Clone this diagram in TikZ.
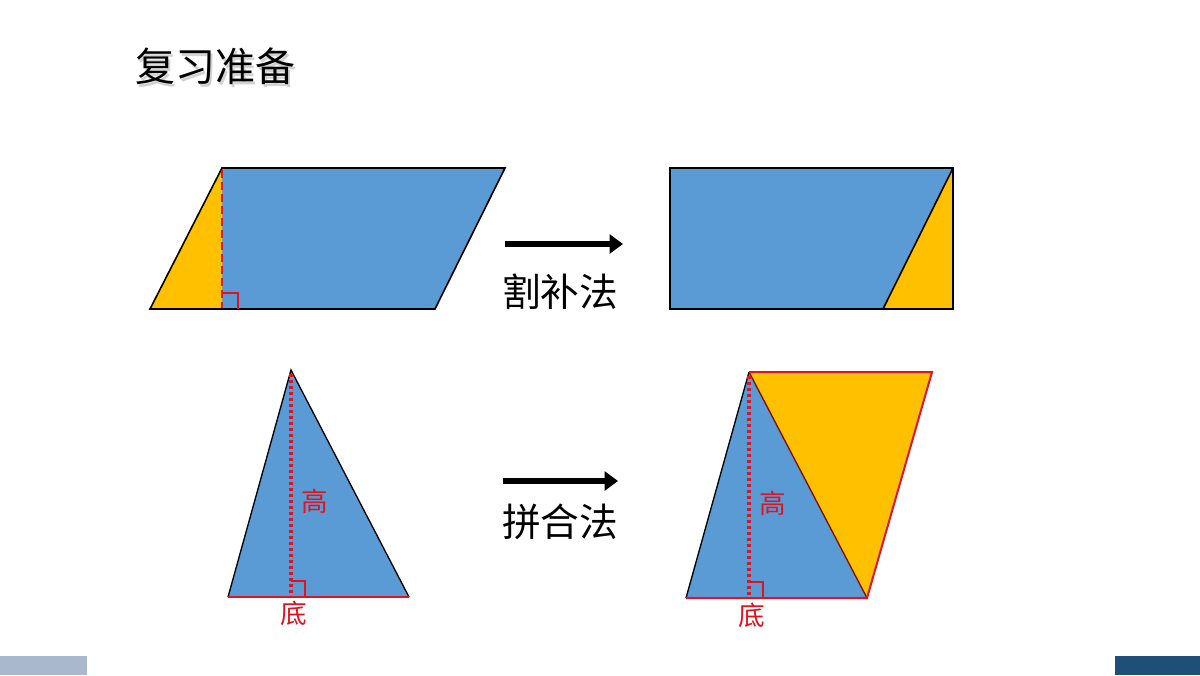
\documentclass[tikz,border=0pt]{standalone}
\usepackage{fontspec}
\newfontfamily\cjk{Noto Sans CJK SC}
\usetikzlibrary{arrows.meta}
\definecolor{bl}{HTML}{5B9BD5}
\definecolor{ye}{HTML}{FFC000}
\definecolor{rd}{HTML}{E0141E}
\definecolor{barl}{HTML}{A9B8CC}
\definecolor{bard}{HTML}{1F4E79}
\tikzset{shape1/.style={draw=black,line width=1.2pt},
lbl/.style={font=\cjk\fontsize{29}{32}\selectfont},
rlbl/.style={font=\cjk\fontsize{20}{24}\selectfont,text=rd},
bigarrow/.style={line width=5pt,-{Triangle[length=10pt,width=14pt]}}}
\begin{document}
\begin{tikzpicture}[x=0.75pt,y=-0.75pt]
\useasboundingbox (0,0) rectangle (1200,675);
\fill[white] (0,0) rectangle (1200,675);
\fill[barl] (0,656) rectangle (87,675);
\fill[bard] (1115,656) rectangle (1200,675);
\node[font=\cjk\fontsize{30}{34}\selectfont,text=gray!35] (tsh) at (217,69) {复习准备};
\node[font=\cjk\fontsize{30}{34}\selectfont] (title) at (215,66) {复习准备};
% parallelogram
\fill[bl] (150,309)--(222,168)--(505,168)--(435,309)--cycle;
\fill[ye] (150,309)--(222,168)--(222,309)--cycle;
\draw[shape1] (150,309)--(222,168)--(505,168)--(435,309)--cycle;
\draw[rd,line width=2pt,dash pattern=on 6pt off 3pt] (222,170)--(222,308);
\draw[rd,line width=0.8pt] (222,293)--(238,293)--(238,309);
% rectangle
\fill[bl] (670,168) rectangle (953,309);
\fill[ye] (883,309)--(953,168)--(953,309)--cycle;
\draw[shape1] (670,168) rectangle (953,309);
\draw[shape1] (883,309)--(953,168);
% arrows
\coordinate (a1s) at (505,244); \coordinate (a1e) at (623,244);
\draw[bigarrow] (a1s)--(a1e);
\node[lbl] (l1) at (560,292) {割补法};
\coordinate (a2s) at (503,481); \coordinate (a2e) at (618,481);
\draw[bigarrow] (a2s)--(a2e);
\node[lbl] (l2) at (560,522) {拼合法};
% triangle
\fill[bl] (228,597)--(291,370)--(409,597)--cycle;
\draw[line width=1pt] (228,597)--(291,370)--(409,597);
\draw[rd,line width=1.5pt] (228,597)--(409,597);
\draw[rd,line width=2.5pt,dash pattern=on 2pt off 2.5pt] (291,374)--(291,596);
\draw[rd,line width=0.8pt] (291,581)--(305,581)--(305,597);
\node[rlbl] (h1) at (315,501) {高};
\node[rlbl] (d1) at (294,613) {底};
% parallelogram from two triangles
\fill[bl] (686,598)--(749,372)--(867,598)--cycle;
\fill[ye] (749,372)--(932,372)--(867,598)--cycle;
\draw[line width=1pt] (686,598)--(749,372);
\draw[line width=1pt,black!40!rd] (749,372)--(867,598);
\draw[rd,line width=1.5pt] (749,372)--(932,372)--(867,598)--(686,598);
\draw[rd,line width=2.5pt,dash pattern=on 2pt off 2.5pt] (749,376)--(749,597);
\draw[rd,line width=0.8pt] (749,582)--(763,582)--(763,598);
\node[rlbl] (h2) at (773,503) {高};
\node[rlbl] (d2) at (752,615) {底};
\end{tikzpicture}
\end{document}
